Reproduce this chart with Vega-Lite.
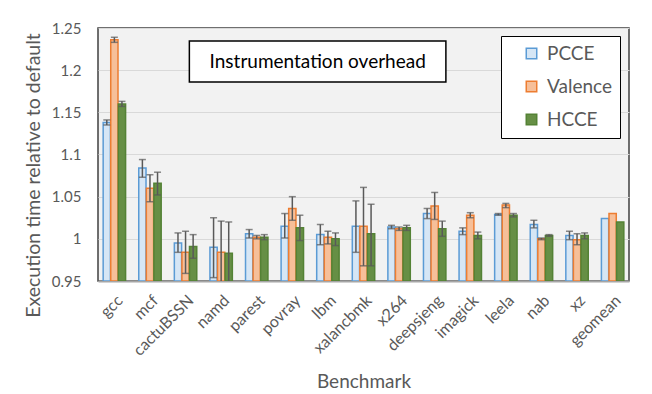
{
  "$schema": "https://vega.github.io/schema/vega-lite/v6.json",
  "width": 531,
  "height": 253,
  "autosize": {"type": "none"},
  "padding": {"left": 98, "top": 28, "right": 23, "bottom": 113},
  "background": "white",
  "config": {
    "view": {"fill": "#f2f2f2", "stroke": "#404040", "strokeWidth": 1.5},
    "font": "Lato"
  },
  "data": {
    "values": [
      {"bench": "gcc", "series": "PCCE", "value": 1.138, "lo": 1.135, "hi": 1.141},
      {"bench": "gcc", "series": "Valence", "value": 1.236, "lo": 1.233, "hi": 1.239},
      {"bench": "gcc", "series": "HCCE", "value": 1.160, "lo": 1.157, "hi": 1.163},
      {"bench": "mcf", "series": "PCCE", "value": 1.084, "lo": 1.073, "hi": 1.094},
      {"bench": "mcf", "series": "Valence", "value": 1.060, "lo": 1.044, "hi": 1.076},
      {"bench": "mcf", "series": "HCCE", "value": 1.066, "lo": 1.052, "hi": 1.079},
      {"bench": "cactuBSSN", "series": "PCCE", "value": 0.995, "lo": 0.984, "hi": 1.007},
      {"bench": "cactuBSSN", "series": "Valence", "value": 0.984, "lo": 0.959, "hi": 1.009},
      {"bench": "cactuBSSN", "series": "HCCE", "value": 0.991, "lo": 0.977, "hi": 1.005},
      {"bench": "namd", "series": "PCCE", "value": 0.990, "lo": 0.954, "hi": 1.025},
      {"bench": "namd", "series": "Valence", "value": 0.984, "lo": 0.947, "hi": 1.021},
      {"bench": "namd", "series": "HCCE", "value": 0.983, "lo": 0.946, "hi": 1.020},
      {"bench": "parest", "series": "PCCE", "value": 1.006, "lo": 1.001, "hi": 1.011},
      {"bench": "parest", "series": "Valence", "value": 1.002, "lo": 1.000, "hi": 1.004},
      {"bench": "parest", "series": "HCCE", "value": 1.002, "lo": 0.999, "hi": 1.005},
      {"bench": "povray", "series": "PCCE", "value": 1.015, "lo": 1.001, "hi": 1.030},
      {"bench": "povray", "series": "Valence", "value": 1.036, "lo": 1.022, "hi": 1.050},
      {"bench": "povray", "series": "HCCE", "value": 1.013, "lo": 0.998, "hi": 1.028},
      {"bench": "lbm", "series": "PCCE", "value": 1.005, "lo": 0.993, "hi": 1.017},
      {"bench": "lbm", "series": "Valence", "value": 1.002, "lo": 0.994, "hi": 1.009},
      {"bench": "lbm", "series": "HCCE", "value": 1.000, "lo": 0.992, "hi": 1.007},
      {"bench": "xalancbmk", "series": "PCCE", "value": 1.015, "lo": 0.984, "hi": 1.045},
      {"bench": "xalancbmk", "series": "Valence", "value": 1.015, "lo": 0.968, "hi": 1.061},
      {"bench": "xalancbmk", "series": "HCCE", "value": 1.006, "lo": 0.968, "hi": 1.041},
      {"bench": "x264", "series": "PCCE", "value": 1.014, "lo": 1.012, "hi": 1.016},
      {"bench": "x264", "series": "Valence", "value": 1.012, "lo": 1.010, "hi": 1.014},
      {"bench": "x264", "series": "HCCE", "value": 1.013, "lo": 1.010, "hi": 1.016},
      {"bench": "deepsjeng", "series": "PCCE", "value": 1.030, "lo": 1.024, "hi": 1.036},
      {"bench": "deepsjeng", "series": "Valence", "value": 1.039, "lo": 1.023, "hi": 1.055},
      {"bench": "deepsjeng", "series": "HCCE", "value": 1.012, "lo": 1.003, "hi": 1.021},
      {"bench": "imagick", "series": "PCCE", "value": 1.009, "lo": 1.005, "hi": 1.013},
      {"bench": "imagick", "series": "Valence", "value": 1.028, "lo": 1.025, "hi": 1.031},
      {"bench": "imagick", "series": "HCCE", "value": 1.004, "lo": 1.000, "hi": 1.008},
      {"bench": "leela", "series": "PCCE", "value": 1.029, "lo": 1.028, "hi": 1.030},
      {"bench": "leela", "series": "Valence", "value": 1.040, "lo": 1.037, "hi": 1.042},
      {"bench": "leela", "series": "HCCE", "value": 1.028, "lo": 1.026, "hi": 1.030},
      {"bench": "nab", "series": "PCCE", "value": 1.017, "lo": 1.013, "hi": 1.022},
      {"bench": "nab", "series": "Valence", "value": 1.000, "lo": 0.999, "hi": 1.001},
      {"bench": "nab", "series": "HCCE", "value": 1.004, "lo": 1.003, "hi": 1.005},
      {"bench": "xz", "series": "PCCE", "value": 1.004, "lo": 0.999, "hi": 1.009},
      {"bench": "xz", "series": "Valence", "value": 0.999, "lo": 0.993, "hi": 1.006},
      {"bench": "xz", "series": "HCCE", "value": 1.004, "lo": 1.000, "hi": 1.007},
      {"bench": "geomean", "series": "PCCE", "value": 1.024, "lo": null, "hi": null},
      {"bench": "geomean", "series": "Valence", "value": 1.030, "lo": null, "hi": null},
      {"bench": "geomean", "series": "HCCE", "value": 1.020, "lo": null, "hi": null}
    ]
  },
  "encoding": {
    "x": {
      "field": "bench",
      "type": "nominal",
      "sort": null,
      "scale": {"paddingInner": 0.37, "paddingOuter": 0.145},
      "axis": {
        "title": "Benchmark",
        "titleFontSize": 19,
        "titleFontWeight": "normal",
        "titleColor": "#595959",
        "titlePadding": 14,
        "labelAngle": -45,
        "labelFontSize": 16,
        "labelColor": "#595959",
        "labelPadding": 11,
        "ticks": false,
        "domainColor": "#a6a6a6",
        "domainWidth": 2
      }
    },
    "xOffset": {"field": "series", "type": "nominal", "sort": ["PCCE", "Valence", "HCCE"], "scale": {"paddingInner": 0.04}}
  },
  "layer": [
    {
      "mark": {"type": "bar", "strokeWidth": 1.5, "clip": true},
      "encoding": {
        "y": {
          "field": "value",
          "type": "quantitative",
          "scale": {"domain": [0.95, 1.25], "zero": false, "nice": false},
          "axis": {
            "title": "Execution time relative to default",
            "titleFontSize": 19.5,
            "titleFontWeight": "normal",
            "titleColor": "#595959",
            "titlePadding": 8,
            "titleY": 147,
            "values": [0.95, 1, 1.05, 1.1, 1.15, 1.2, 1.25],
            "format": ".2~f",
            "labelFontSize": 15,
            "labelColor": "#595959",
            "labelPadding": 17,
            "ticks": false,
            "domain": false,
            "gridColor": "#d9d9d9",
            "gridWidth": 1
          }
        },
        "y2": {"datum": 0.95},
        "fill": {
          "field": "series",
          "type": "nominal",
          "sort": ["PCCE", "Valence", "HCCE"],
          "scale": {"domain": ["PCCE", "Valence", "HCCE"], "range": ["#d6e6f5", "#f6bf99", "#668f45"]},
          "legend": {
            "title": null,
            "orient": "none",
            "legendX": 403,
            "legendY": 8,
            "strokeColor": "#000000",
            "fillColor": "#ffffff",
            "padding": 8,
            "symbolOffset": 13,
            "symbolType": "square",
            "symbolSize": 110,
            "symbolStrokeWidth": 1.5,
            "labelFontSize": 19,
            "labelColor": "#595959",
            "labelOffset": 6,
            "rowPadding": 13
          }
        },
        "stroke": {
          "field": "series",
          "type": "nominal",
          "sort": ["PCCE", "Valence", "HCCE"],
          "scale": {"domain": ["PCCE", "Valence", "HCCE"], "range": ["#5b9bd5", "#ed7d31", "#548235"]},
          "legend": {
            "title": null,
            "orient": "none",
            "legendX": 403,
            "legendY": 8,
            "strokeColor": "#000000",
            "fillColor": "#ffffff",
            "padding": 8,
            "symbolOffset": 13,
            "symbolType": "square",
            "symbolSize": 110,
            "symbolStrokeWidth": 1.5,
            "labelFontSize": 19,
            "labelColor": "#595959",
            "labelOffset": 6,
            "rowPadding": 13
          }
        }
      }
    },
    {
      "transform": [{"filter": "isValid(datum.lo)"}],
      "mark": {"type": "rule", "color": "#595959", "strokeWidth": 1.5, "clip": true},
      "encoding": {
        "y": {"field": "lo", "type": "quantitative"},
        "y2": {"field": "hi"}
      }
    },
    {
      "transform": [{"filter": "isValid(datum.lo)"}],
      "mark": {"type": "tick", "color": "#595959", "thickness": 1.5, "size": 7, "clip": true},
      "encoding": {"y": {"field": "lo", "type": "quantitative"}}
    },
    {
      "transform": [{"filter": "isValid(datum.hi)"}],
      "mark": {"type": "tick", "color": "#595959", "thickness": 1.5, "size": 7, "clip": true},
      "encoding": {"y": {"field": "hi", "type": "quantitative"}}
    },
    {
      "data": {"values": [{"label": "Instrumentation overhead"}]},
      "mark": {"type": "rect", "fill": "white", "stroke": "black", "strokeWidth": 1.5},
      "encoding": {
        "x": {"datum": "cactuBSSN", "bandPosition": 0.67},
        "x2": {"datum": "deepsjeng", "bandPosition": 1.0},
        "xOffset": null,
        "y": {"datum": 1.2346},
        "y2": {"datum": 1.186}
      }
    },
    {
      "data": {"values": [{"label": "Instrumentation overhead"}]},
      "mark": {"type": "text", "fontSize": 19, "color": "black", "align": "center", "baseline": "middle"},
      "encoding": {
        "x": {"datum": "lbm", "bandPosition": 0.045},
        "xOffset": null,
        "y": {"datum": 1.210},
        "text": {"field": "label"}
      }
    }
  ]
}
